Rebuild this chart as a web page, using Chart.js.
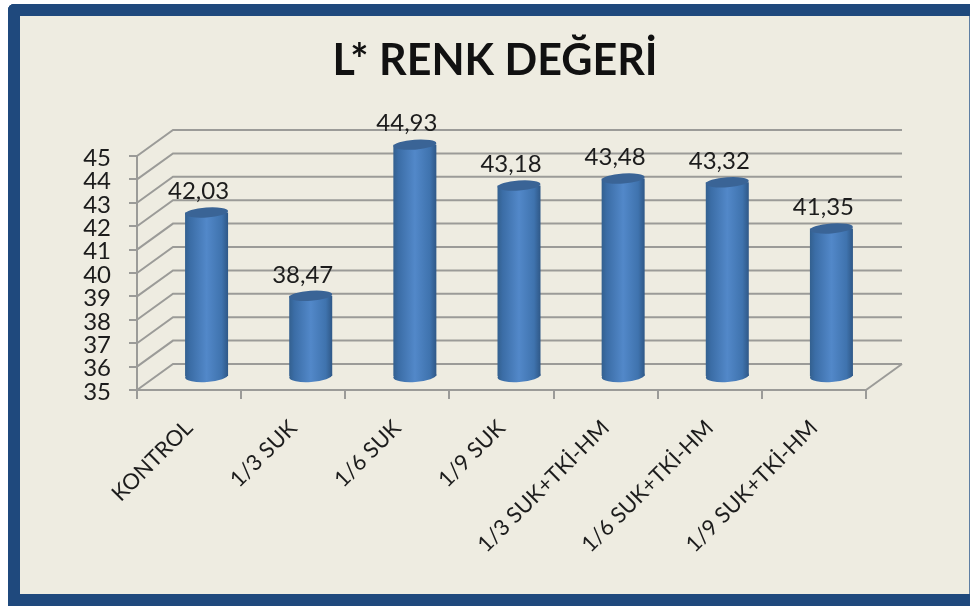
<!DOCTYPE html>
<html>
<head>
<meta charset="utf-8">
<script src="https://cdn.jsdelivr.net/npm/chart.js@4"></script>
<style>
html,body{margin:0;padding:0;background:#fff;width:970px;height:606px;overflow:hidden}
#frame{position:absolute;left:8px;top:4px;width:962px;height:602px;box-sizing:border-box;background:#eeece1;
border:12px solid #1f497d;border-right:1px solid #5f7fa3;border-top-left-radius:6px}
#topbar{position:absolute;left:8px;top:4px;width:962px;height:12px;background:#1f497d;border-top-left-radius:6px}
#bottombar{position:absolute;left:8px;top:594px;width:962px;height:12px;background:#1f497d}
canvas{position:absolute;left:0;top:0}
</style>
</head>
<body>
<div id="frame"></div><div id="topbar"></div><div id="bottombar"></div>
<canvas id="c" width="970" height="606"></canvas>
<script>
const categories = ["KONTROL","1/3 SUK","1/6 SUK","1/9 SUK","1/3 SUK+TKİ-HM","1/6 SUK+TKİ-HM","1/9 SUK+TKİ-HM"];
const values = [42.03,38.47,44.93,43.18,43.48,43.32,41.35];
const axisMin = 35, axisMax = 45, axisStep = 1;
const titleText = "L* RENK DEĞERİ";

const FONT = "Lato, Carlito, Calibri, sans-serif";
const GRID = "#9b9b98";
const TEXT = "#1c1c1c";
const wallDX = 36, wallDY = 26;
const barDX = 17.5, barDY = 13;

function barGradient(c, x, w){
  if (!isFinite(x) || !isFinite(w)) return "#4f81bd";
  const g = c.createLinearGradient(x - w/2, 0, x + w/2, 0);
  g.addColorStop(0, "#33608f");
  g.addColorStop(0.12, "#3b6da6");
  g.addColorStop(0.5, "#5288c9");
  g.addColorStop(0.85, "#3f73ae");
  g.addColorStop(1, "#2f5887");
  return g;
}

const depthPlugin = {
  id: "depth",
  beforeDatasetsDraw(chart){
    const {ctx, scales:{x, y}, chartArea:a} = chart;
    ctx.save();
    ctx.strokeStyle = GRID; ctx.lineWidth = 2;
    y.ticks.forEach(t => {
      const py = y.getPixelForValue(t.value);
      ctx.beginPath();
      ctx.moveTo(a.left, py);
      ctx.lineTo(a.left + wallDX, py - wallDY);
      ctx.lineTo(a.right + wallDX, py - wallDY);
      ctx.stroke();
    });
    const by = y.getPixelForValue(axisMin);
    ctx.beginPath();
    ctx.moveTo(a.right, by);
    ctx.lineTo(a.right + wallDX, by - wallDY);
    ctx.stroke();
    ctx.restore();
  },
  beforeDatasetDraw(chart, args){
    const {ctx} = chart;
    ctx.save();
    ctx.translate(barDX, -barDY);
    args.meta.data.forEach(b => {
      const g = barGradient(ctx, b.x, b.width);
      b.options = Object.assign({}, b.options, {backgroundColor: g});
      ctx.fillStyle = g;
      ctx.beginPath();
      ctx.ellipse(b.x, b.base, b.width/2, 6, -0.07, 0, Math.PI*2);
      ctx.fill();
    });
  },
  afterDatasetDraw(chart, args){
    const {ctx} = chart;
    args.meta.data.forEach(b => {
      ctx.fillStyle = "#3a6496";
      ctx.beginPath();
      ctx.ellipse(b.x, b.y, b.width/2, 5, -0.07, 0, Math.PI*2);
      ctx.fill();
    });
    ctx.restore();
    ctx.save();
    ctx.font = "24px " + FONT;
    ctx.fillStyle = TEXT;
    ctx.textAlign = "center";
    ctx.textBaseline = "middle";
    args.meta.data.forEach((b, i) => {
      ctx.fillText(values[i].toFixed(2).replace(".", ","), b.x + barDX - 8, b.y - barDY - 21);
    });
    ctx.restore();
  }
};

new Chart(document.getElementById("c"), {
  type: "bar",
  data: {
    labels: categories,
    datasets: [{
      data: values,
      base: axisMin,
      clip: false,
      barPercentage: 0.413,
      categoryPercentage: 1,
      borderWidth: 0,
      backgroundColor: "#4f81bd"
    }]
  },
  options: {
    responsive: false,
    animation: false,
    layout: {padding: {left: 20, right: 0, top: 0, bottom: 0}},
    plugins: {
      legend: {display: false},
      tooltip: {enabled: false},
      title: {
        display: true,
        text: titleText,
        color: "#111111",
        font: {family: FONT, size: 43, weight: "bold", lineHeight: 1.2},
        padding: {top: 35.5, bottom: 68.9}
      }
    },
    scales: {
      x: {
        afterFit(s){ s.height = 216; },
        grid: {offset: true, drawOnChartArea: false, color: GRID, lineWidth: 2, tickLength: 9},
        border: {color: GRID, width: 2},
        ticks: {
          color: TEXT, autoSkip: false, maxRotation: 45, minRotation: 45, padding: 16,
          font: {family: FONT, size: 22}
        }
      },
      y: {
        min: axisMin, max: axisMax,
        afterFit(s){ s.width = 117; },
        grid: {drawOnChartArea: false, color: GRID, lineWidth: 2, tickLength: 8},
        border: {color: GRID, width: 2},
        ticks: {stepSize: axisStep, autoSkip: false, color: TEXT, padding: 18, labelOffset: 2, font: {family: FONT, size: 24}}
      },
      y2: {
        position: "right", display: true, min: axisMin, max: axisMax,
        afterFit(s){ s.width = 104; },
        grid: {display: false},
        border: {display: false},
        ticks: {display: false}
      }
    }
  },
  plugins: [depthPlugin]
});
</script>
</body>
</html>
